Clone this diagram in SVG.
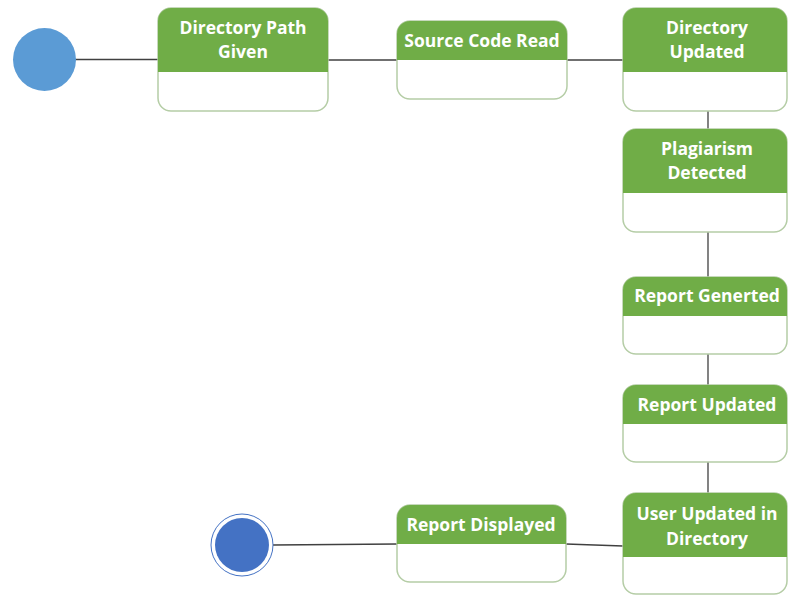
<svg xmlns="http://www.w3.org/2000/svg" width="788" height="595" viewBox="0 0 788 595">
<style>
.box{fill:#ffffff;stroke:#b5cda6;stroke-width:1.5}
.hdr{fill:#70ad47}
.lbl{fill:#ffffff;font-family:"Open Sans",Lato,sans-serif;font-weight:bold;font-size:17.5px;text-anchor:middle}
.con{stroke:#404040;stroke-width:1.3;fill:none}
</style>
<rect width="788" height="595" fill="#ffffff"/>
<g id="connectors">
<line class="con" x1="75" y1="59.5" x2="158" y2="59.5"/>
<line class="con" x1="328" y1="60" x2="397" y2="60"/>
<line class="con" x1="567" y1="60" x2="623" y2="60"/>
<line class="con" x1="708" y1="111" x2="708" y2="129"/>
<line class="con" x1="708" y1="232" x2="708" y2="277"/>
<line class="con" x1="708" y1="354" x2="708" y2="385"/>
<line class="con" x1="708" y1="462" x2="708" y2="493"/>
<line class="con" x1="623" y1="546" x2="566" y2="544"/>
<line class="con" x1="397" y1="544" x2="273" y2="545"/>
</g>
<g id="start">
<circle cx="44.5" cy="59.5" r="31.5" fill="#5b9bd5"/>
</g>
<g id="n1">
<rect class="box" x="158" y="8" width="170" height="103" rx="13"/>
<path class="hdr" d="M158,72 V21 A13,13 0 0 1 171,8 H315 A13,13 0 0 1 328,21 V72 Z"/>
<text class="lbl" x="243" y="34">Directory Path</text>
<text class="lbl" x="243" y="58">Given</text>
</g>
<g id="n2">
<rect class="box" x="397" y="21" width="170" height="78" rx="13"/>
<path class="hdr" d="M397,60 V34 A13,13 0 0 1 410,21 H554 A13,13 0 0 1 567,34 V60 Z"/>
<text class="lbl" x="482" y="47">Source Code Read</text>
</g>
<g id="n3">
<rect class="box" x="623" y="8" width="164" height="103" rx="13"/>
<path class="hdr" d="M623,72 V21 A13,13 0 0 1 636,8 H774 A13,13 0 0 1 787,21 V72 Z"/>
<text class="lbl" x="707" y="34">Directory</text>
<text class="lbl" x="707" y="58">Updated</text>
</g>
<g id="n4">
<rect class="box" x="623" y="129" width="164" height="103" rx="13"/>
<path class="hdr" d="M623,193 V142 A13,13 0 0 1 636,129 H774 A13,13 0 0 1 787,142 V193 Z"/>
<text class="lbl" x="707" y="155">Plagiarism</text>
<text class="lbl" x="707" y="179">Detected</text>
</g>
<g id="n5">
<rect class="box" x="623" y="277" width="164" height="77" rx="13"/>
<path class="hdr" d="M623,316 V290 A13,13 0 0 1 636,277 H774 A13,13 0 0 1 787,290 V316 Z"/>
<text class="lbl" x="707" y="302">Report Generted</text>
</g>
<g id="n6">
<rect class="box" x="623" y="385" width="164" height="77" rx="13"/>
<path class="hdr" d="M623,424 V398 A13,13 0 0 1 636,385 H774 A13,13 0 0 1 787,398 V424 Z"/>
<text class="lbl" x="707" y="411">Report Updated</text>
</g>
<g id="n7">
<rect class="box" x="623" y="493" width="164" height="101" rx="13"/>
<path class="hdr" d="M623,557 V506 A13,13 0 0 1 636,493 H774 A13,13 0 0 1 787,506 V557 Z"/>
<text class="lbl" x="707" y="520">User Updated in</text>
<text class="lbl" x="707" y="545">Directory</text>
</g>
<g id="n8">
<rect class="box" x="397" y="505" width="169" height="77" rx="13"/>
<path class="hdr" d="M397,544 V518 A13,13 0 0 1 410,505 H553 A13,13 0 0 1 566,518 V544 Z"/>
<text class="lbl" x="481" y="531">Report Displayed</text>
</g>
<g id="end">
<circle cx="242" cy="545" r="31" fill="#ffffff" stroke="#4472c4" stroke-width="1"/>
<circle cx="242" cy="545" r="27" fill="#4472c4"/>
</g>
</svg>
